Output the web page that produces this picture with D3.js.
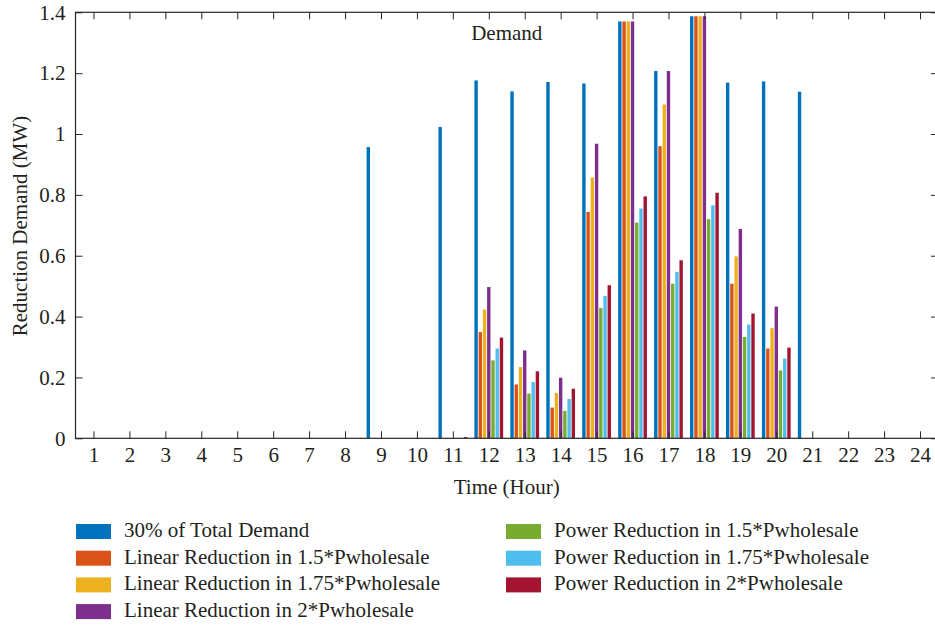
<!DOCTYPE html>
<html>
<head>
<meta charset="utf-8">
<script src="https://cdn.jsdelivr.net/npm/d3@7"></script>
<style>
  html, body { margin: 0; padding: 0; background: #fff; }
  svg { display: block; font-family: "Liberation Serif", "DejaVu Serif", serif; }
  .tick text { fill: #231f20; }
</style>
</head>
<body>
<svg id="chart" width="935" height="625"></svg>
<script>
// Hours of the day
const hours = d3.range(1, 25);
const tickLabelsY = [0, 0.2, 0.4, 0.6, 0.8, 1, 1.2, 1.4];

// Reduction demand per hour (MW), one array per series
const totalDemand30 = [0,0,0,0,0,0,0,0,0.957,0,1.023,1.176,1.140,1.171,1.166,1.370,1.207,1.387,1.169,1.173,1.139,0,0,0];
const linear150     = [0,0,0,0,0,0,0,0,0,0,0,0.349,0.177,0.101,0.744,1.370,0.960,1.387,0.508,0.295,0,0,0,0];
const linear175     = [0,0,0,0,0,0,0,0,0,0,0,0.423,0.234,0.149,0.857,1.370,1.097,1.387,0.598,0.362,0,0,0,0];
const linear200     = [0,0,0,0,0,0,0,0,0,0,0,0.497,0.289,0.199,0.968,1.370,1.207,1.387,0.688,0.433,0,0,0,0];
const power150      = [0,0,0,0,0,0,0,0,0,0,0,0.256,0.147,0.090,0.428,0.709,0.508,0.720,0.333,0.223,0,0,0,0];
const power175      = [0,0,0,0,0,0,0,0,0,0,0,0.295,0.185,0.129,0.468,0.755,0.547,0.766,0.374,0.262,0,0,0,0];
const power200      = [0,0,0,0,0,0,0,0,0,0,0.004,0.331,0.220,0.163,0.503,0.795,0.585,0.807,0.410,0.298,0,0,0,0];

const seriesNames = [
  "30% of Total Demand",
  "Linear Reduction in 1.5*Pwholesale",
  "Linear Reduction in 1.75*Pwholesale",
  "Linear Reduction in 2*Pwholesale",
  "Power Reduction in 1.5*Pwholesale",
  "Power Reduction in 1.75*Pwholesale",
  "Power Reduction in 2*Pwholesale"
];
const seriesValues = [totalDemand30, linear150, linear175, linear200, power150, power175, power200];
const colors = ["#0072BD", "#D95319", "#EDB120", "#7E2F8E", "#77AC30", "#4DBEEE", "#A2142F"];

const svg = d3.select("#chart");
const plotL = 75.5, plotR = 938, plotT = 12.3, plotB = 438.3;

const x = d3.scaleLinear().domain([0.5, 24.5]).range([plotL, plotR]);
const y = d3.scaleLinear().domain([0, 1.4]).range([plotB, plotT]);

// grouped bar geometry (7 bars per hour)
const nSeries = seriesValues.length;
const groupWidth = nSeries / (nSeries + 1.5);
const slot = groupWidth / nSeries;
const barW = x(slot * 0.8) - x(0);

const bars = svg.append("g");
seriesValues.forEach((vals, si) => {
  const off = (si - (nSeries - 1) / 2) * slot;
  bars.selectAll(null)
    .data(hours.map((h, i) => ({ h, v: vals[i] })).filter(d => d.v > 0))
    .enter().append("rect")
    .attr("x", d => x(d.h + off) - barW / 2)
    .attr("width", barW)
    .attr("y", d => y(d.v))
    .attr("height", d => y(0) - y(d.v))
    .attr("fill", colors[si]);
});

const fontSize = 21;
const textColor = "#231f20";
const axisColor = "#262626";

// bottom axis with inward ticks
const gx = svg.append("g").attr("transform", `translate(0,${plotB})`)
  .call(d3.axisBottom(x).tickValues(hours).tickSizeInner(-7).tickSizeOuter(0).tickPadding(11).tickFormat(d3.format("d")));
// top axis ticks
const gxTop = svg.append("g").attr("transform", `translate(0,${plotT})`)
  .call(d3.axisTop(x).tickValues(hours).tickSizeInner(-7).tickSizeOuter(0).tickFormat(""));
// left axis
const gy = svg.append("g").attr("transform", `translate(${plotL},0)`)
  .call(d3.axisLeft(y).tickValues(tickLabelsY).tickSizeInner(-7).tickSizeOuter(0).tickPadding(10).tickFormat(d => d3.format("")(+d.toFixed(1))));
// right axis ticks
const gyR = svg.append("g").attr("transform", `translate(${plotR},0)`)
  .call(d3.axisRight(y).tickValues(tickLabelsY).tickSizeInner(-7).tickSizeOuter(0).tickFormat(""));

[gx, gxTop, gy, gyR].forEach(g => {
  g.select(".domain").remove();
  g.selectAll(".tick line").attr("stroke", axisColor).attr("stroke-width", 1);
  g.selectAll(".tick text").attr("font-size", fontSize).attr("font-family", "Liberation Serif, DejaVu Serif, serif");
});
gx.selectAll(".tick text").attr("dy", "0.6em");

// plot frame
svg.append("rect")
  .attr("x", plotL).attr("y", plotT)
  .attr("width", plotR - plotL).attr("height", plotB - plotT)
  .attr("fill", "none").attr("stroke", axisColor).attr("stroke-width", 1.2);

// title and axis labels
svg.append("text")
  .attr("x", (plotL + plotR) / 2).attr("y", 40)
  .attr("text-anchor", "middle").attr("font-size", fontSize).attr("fill", textColor)
  .text("Demand");

svg.append("text")
  .attr("x", (plotL + plotR) / 2).attr("y", 494)
  .attr("text-anchor", "middle").attr("font-size", fontSize).attr("fill", textColor)
  .text("Time (Hour)");

svg.append("text")
  .attr("transform", `translate(27,226) rotate(-90)`)
  .attr("text-anchor", "middle").attr("font-size", fontSize).attr("fill", textColor)
  .text("Reduction Demand (MW)");

// legend in two columns
const legend = svg.append("g");
const colX = [76, 506];
const rowY = [524, 550.7, 577.4, 604.1];
seriesNames.forEach((name, i) => {
  const col = i < 4 ? 0 : 1;
  const row = i < 4 ? i : i - 4;
  const g = legend.append("g").attr("transform", `translate(${colX[col]},${rowY[row]})`);
  g.append("rect").attr("width", 35).attr("height", 15).attr("fill", colors[i]);
  g.append("text").attr("x", 48).attr("y", 13)
    .attr("font-size", fontSize).attr("fill", textColor).text(name);
});
</script>
</body>
</html>
